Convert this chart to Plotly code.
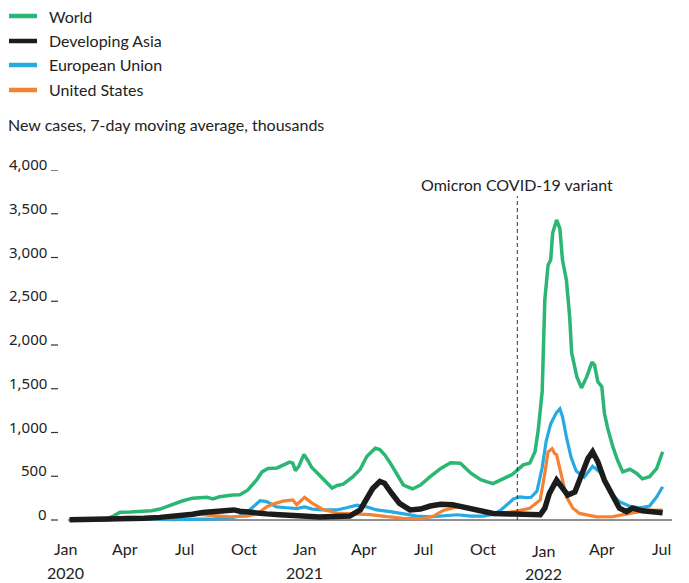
import plotly.graph_objects as go

# ---------------- data (thousands, 7-day moving average) ----------------
world_dates = ["2020-01-08","2020-02-15","2020-03-05","2020-03-15","2020-03-25","2020-04-10","2020-04-29",
    "2020-05-12","2020-05-25","2020-06-09","2020-06-29","2020-07-14","2020-08-05","2020-08-14","2020-08-24",
    "2020-09-13","2020-09-24","2020-10-06","2020-10-20","2020-10-28","2020-11-06","2020-11-20","2020-11-29",
    "2020-12-09","2020-12-14","2020-12-18","2020-12-23","2020-12-31","2021-01-06","2021-01-12","2021-01-20",
    "2021-01-29","2021-02-06","2021-02-12","2021-02-20","2021-03-01","2021-03-16","2021-03-27","2021-04-06",
    "2021-04-19","2021-04-26","2021-05-04","2021-05-12","2021-05-23","2021-06-01","2021-06-15","2021-06-27",
    "2021-07-12","2021-07-28","2021-08-12","2021-08-27","2021-09-12","2021-09-27","2021-10-07","2021-10-16",
    "2021-10-27","2021-11-07","2021-11-14","2021-11-22","2021-12-01","2021-12-11","2021-12-19","2021-12-24",
    "2021-12-30","2022-01-03","2022-01-08","2022-01-12","2022-01-15","2022-01-21","2022-01-26","2022-01-30",
    "2022-02-05","2022-02-10","2022-02-13","2022-02-21","2022-02-28","2022-03-08","2022-03-16","2022-03-20",
    "2022-03-25","2022-03-31","2022-04-04","2022-04-09","2022-04-17","2022-04-24","2022-05-02","2022-05-13",
    "2022-05-23","2022-06-01","2022-06-12","2022-06-23","2022-07-02"]
world_vals = [0,2,12,45,90,92,100,
    105,125,170,220,250,260,242,265,
    285,288,340,460,550,590,595,630,
    662,650,565,610,750,680,600,540,
    470,400,365,395,410,495,580,725,
    820,805,740,650,515,400,355,400,
    495,590,655,650,535,460,435,415,
    455,495,520,570,630,650,780,1030,
    1470,2515,2915,2975,3280,3430,3330,2970,
    2740,2320,1910,1635,1510,1635,1805,1770,
    1580,1525,1220,1050,835,685,550,580,
    535,470,495,590,780]

asia_dates = ["2020-01-08","2020-02-12","2020-03-15","2020-04-04","2020-05-01","2020-05-25","2020-06-20",
    "2020-07-14","2020-07-29","2020-08-14","2020-09-04","2020-09-15","2020-09-24","2020-10-14","2020-11-04",
    "2020-11-24","2020-12-09","2020-12-29","2021-01-24","2021-02-19","2021-03-11","2021-03-27","2021-04-06",
    "2021-04-15","2021-04-26","2021-05-03","2021-05-14","2021-05-26","2021-06-11","2021-06-27","2021-07-12",
    "2021-07-28","2021-08-15","2021-09-06","2021-09-27","2021-10-16","2021-11-16","2021-12-11","2021-12-27",
    "2022-01-03","2022-01-10","2022-01-21","2022-01-29","2022-02-07","2022-02-18","2022-02-28","2022-03-10",
    "2022-03-17","2022-03-25","2022-04-04","2022-04-15","2022-04-27","2022-05-08","2022-05-17","2022-06-01",
    "2022-06-16","2022-07-02"]
asia_vals = [2,3,5,12,20,30,45,
    65,85,95,112,115,100,78,70,
    60,50,45,35,35,45,115,230,
    360,440,420,305,190,115,125,160,
    180,175,140,95,75,68,60,60,
    135,305,455,380,285,320,495,705,
    780,665,455,285,135,95,135,105,
    90,82]

eu_dates = ["2020-01-08","2020-03-05","2020-03-20","2020-04-01","2020-04-15","2020-05-10","2020-06-15",
    "2020-07-15","2020-08-15","2020-09-10","2020-09-24","2020-10-09","2020-10-25","2020-11-04","2020-11-19",
    "2020-12-05","2020-12-20","2021-01-01","2021-01-13","2021-01-29","2021-02-19","2021-03-06","2021-03-22",
    "2021-04-06","2021-04-21","2021-05-12","2021-05-31","2021-06-22","2021-07-12","2021-08-01","2021-08-22",
    "2021-09-12","2021-10-01","2021-10-16","2021-10-27","2021-11-07","2021-11-16","2021-11-26","2021-12-05",
    "2021-12-13","2021-12-22","2021-12-30","2022-01-05","2022-01-12","2022-01-21","2022-01-26","2022-01-30",
    "2022-02-05","2022-02-12","2022-02-20","2022-03-04","2022-03-17","2022-03-28","2022-04-08","2022-04-17",
    "2022-04-27","2022-05-12","2022-05-28","2022-06-12","2022-06-23","2022-07-02"]
eu_vals = [0,2,15,30,28,12,5,
    5,12,25,45,115,220,210,150,
    140,130,150,125,115,115,140,170,
    150,115,95,70,45,35,45,60,
    45,45,65,110,180,240,265,255,
    260,330,600,900,1100,1230,1270,1180,
    950,720,560,490,615,550,420,285,
    210,160,140,160,265,380]

us_dates = ["2020-01-08","2020-03-10","2020-03-25","2020-04-08","2020-05-01","2020-06-05","2020-06-25",
    "2020-07-20","2020-08-15","2020-09-10","2020-10-05","2020-10-14","2020-10-25","2020-11-04","2020-11-13",
    "2020-11-29","2020-12-14","2020-12-20","2021-01-01","2021-01-13","2021-01-29","2021-02-19","2021-03-16",
    "2021-04-11","2021-05-07","2021-05-31","2021-06-27","2021-07-17","2021-08-01","2021-08-22","2021-09-12",
    "2021-10-01","2021-10-27","2021-11-16","2021-12-11","2021-12-27","2022-01-03","2022-01-08","2022-01-14",
    "2022-01-18","2022-01-21","2022-01-29","2022-02-05","2022-02-15","2022-02-25","2022-03-23","2022-04-17",
    "2022-05-13","2022-06-08","2022-07-02"]
us_vals = [0,2,15,30,28,20,40,
    66,50,37,45,60,95,150,180,
    215,230,175,258,190,120,80,70,
    62,38,20,12,45,110,150,135,
    95,75,95,135,230,535,780,815,
    760,745,495,265,135,75,35,38,
    75,110,112]

series_names = ["World", "Developing Asia", "European Union", "United States"]
series_colors = ["#2bb673", "#1c1c1c", "#27aae1", "#f58233"]

y_tick_vals = [0, 500, 1000, 1500, 2000, 2500, 3000, 3500, 4000]
y_tick_text = ["0", "500", "1,000", "1,500", "2,000", "2,500", "3,000", "3,500", "4,000"]
x_tick_dates = ["2020-01-01","2020-04-01","2020-07-01","2020-10-01","2021-01-01","2021-04-01",
                "2021-07-01","2021-10-01","2022-01-01","2022-04-01","2022-07-01"]
x_tick_months = ["Jan","Apr","Jul","Oct","Jan","Apr","Jul","Oct","Jan","Apr","Jul"]
x_tick_years = ["2020","","","","2021","","","","2022","",""]

omicron_date = "2021-11-22"
omicron_label = "Omicron COVID-19 variant"
subtitle = "New cases, 7-day moving average, thousands"

# ---------------- layout geometry (screen pixels; page has an 8px body margin) ----------------
OFF = 8
W, H = 689 - OFF, 583 - OFF
P_L, P_R, P_T, P_B = 60, 672, 170, 527          # plot area on screen
ML, MT = P_L - OFF, P_T - OFF
MR, MB = W - (P_R - OFF), H - (P_B - OFF)
PW, PH = P_R - P_L, P_B - P_T
X_START, X_END = "2019-12-24 08:40", "2022-07-16 07:00"

def px_x(p):
    return (p - P_L) / PW

def px_y(p):
    return (P_B - p) / PH

FONT = "Lato"
TXT = "#222"

fig = go.Figure()
trace_order = [("World", world_dates, world_vals, 3.5),
               ("European Union", eu_dates, eu_vals, 3.2),
               ("United States", us_dates, us_vals, 3.2),
               ("Developing Asia", asia_dates, asia_vals, 5.5)]
for name, d, v, w in trace_order:
    c = series_colors[series_names.index(name)]
    fig.add_trace(go.Scatter(x=d, y=v, mode="lines", name=name, showlegend=False,
                             line=dict(color=c, width=w), hoverinfo="skip"))

shapes = []
# baseline
shapes.append(dict(type="line", xref="x", yref="y", x0="2020-01-05 14:00", x1=X_END, y0=0, y1=0,
                   line=dict(color="#222", width=1), layer="below"))
# y ticks left and right
for v in y_tick_vals:
    shapes.append(dict(type="line", xref="paper", yref="y", x0=px_x(51), x1=px_x(58), y0=v, y1=v,
                       line=dict(color="#333", width=1.2)))
    shapes.append(dict(type="line", xref="paper", yref="y", x0=px_x(683), x1=px_x(690), y0=v, y1=v,
                       line=dict(color="#333", width=1.2)))
# omicron marker
shapes.append(dict(type="line", xref="x", yref="y", x0=omicron_date, x1=omicron_date, y0=0, y1=3700,
                   line=dict(color="#333", width=1, dash="4px,3px")))

annotations = []
# legend (key lines + labels)
legend_rows = [16, 41, 65, 90]
for name, c, yc in zip(series_names, series_colors, legend_rows):
    shapes.append(dict(type="line", xref="paper", yref="paper", x0=px_x(9), x1=px_x(37),
                       y0=px_y(yc), y1=px_y(yc), line=dict(color=c, width=4.5)))
    annotations.append(dict(text=name, xref="paper", yref="paper", x=px_x(47), y=px_y(yc),
                            xanchor="left", yanchor="middle", showarrow=False,
                            font=dict(family=FONT, size=16, color=TXT)))
# y tick labels
for v, t in zip(y_tick_vals, y_tick_text):
    annotations.append(dict(text=t, xref="paper", yref="y", x=px_x(49), y=v, xanchor="right",
                            yanchor="middle", yshift=6, showarrow=False,
                            font=dict(family="Noto Sans", size=15, color=TXT)))
# x tick labels
for d, m, yr in zip(x_tick_dates, x_tick_months, x_tick_years):
    extra = 2 if yr == "2022" else 0
    annotations.append(dict(text=m, xref="x", yref="paper", x=d, y=0, xanchor="center",
                            yanchor="middle", yshift=-(548 - P_B) - extra, showarrow=False,
                            font=dict(family=FONT, size=16, color=TXT)))
    if yr:
        annotations.append(dict(text=yr, xref="x", yref="paper", x=d, y=0, xanchor="center",
                                yanchor="middle", yshift=-(572 - P_B) - (1 if extra else 0),
                                showarrow=False,
                                font=dict(family=FONT, size=16, color=TXT)))
annotations.append(dict(text=omicron_label, xref="x", yref="y", x=omicron_date, y=3840,
                        xanchor="center", yanchor="middle", showarrow=False,
                        font=dict(family=FONT, size=16, color=TXT)))
annotations.append(dict(text=subtitle, xref="paper", yref="paper",
                        x=px_x(6), y=px_y(124), xanchor="left", yanchor="middle", showarrow=False,
                        font=dict(family=FONT, size=16, color=TXT)))

fig.update_layout(
    width=W, height=H,
    margin=dict(l=ML, r=MR, t=MT, b=MB, autoexpand=False),
    paper_bgcolor="white", plot_bgcolor="white",
    showlegend=False,
    xaxis=dict(type="date", range=[X_START, X_END],
               showticklabels=False, showgrid=False, zeroline=False, showline=False, ticks=""),
    yaxis=dict(range=[-80, 4000], showticklabels=False, showgrid=False, zeroline=False,
               showline=False, ticks=""),
    shapes=shapes, annotations=annotations,
)

fig.write_html("out.html")
